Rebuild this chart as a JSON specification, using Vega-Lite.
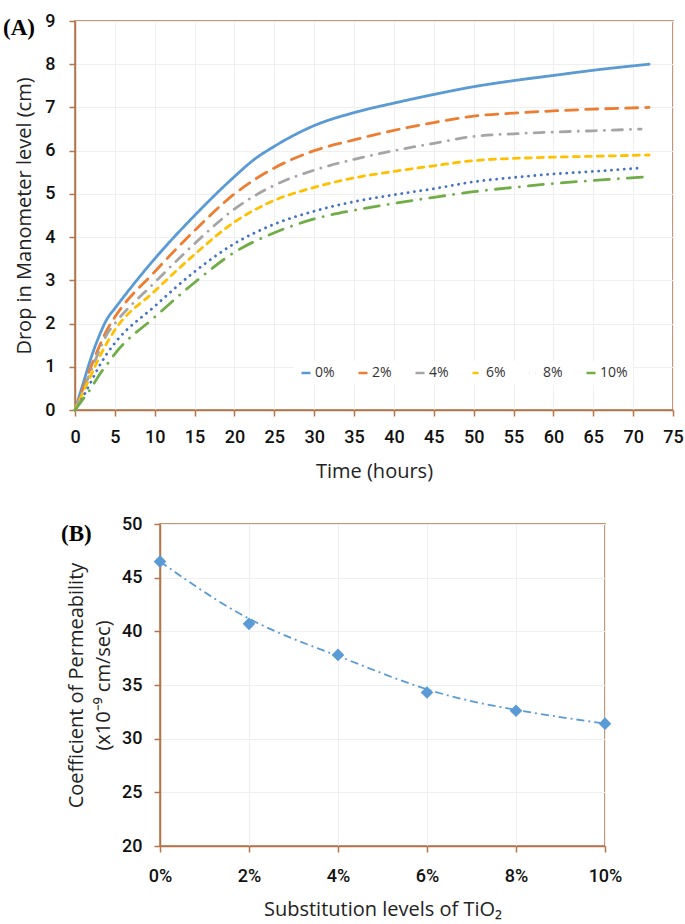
{
  "$schema": "https://vega.github.io/schema/vega-lite/v6.json",
  "background": "white",
  "padding": {"left": 2, "top": 11, "right": 2, "bottom": 2},
  "spacing": 32,
  "config": {
    "font": "Open Sans",
    "view": {"stroke": "#B5734A", "strokeWidth": 1.5},
    "axis": {
      "domainColor": "#B5734A", "domainWidth": 1.5,
      "tickColor": "#B5734A", "tickWidth": 1.5, "tickSize": 6,
      "gridColor": "#EFEFEF", "gridWidth": 1,
      "labelFlush": false, "labelOverlap": false,
      "labelFont": "Roboto", "labelFontWeight": 500, "labelFontSize": 18, "labelColor": "#111111",
      "titleFont": "Open Sans", "titleFontWeight": "normal", "titleFontSize": 20, "titleColor": "#222222"
    }
  },
  "vconcat": [
    {
      "width": 598,
      "height": 389,
      "title": {"text": "(A)", "anchor": "start", "frame": "group", "font": "Liberation Serif", "fontSize": 23, "fontWeight": "bold", "color": "#000000", "dx": -72, "offset": -28},
      "data": {"values": [
        {"level": "0%", "time": 0, "drop": 0}, {"level": "0%", "time": 1, "drop": 0.6}, {"level": "0%", "time": 2, "drop": 1.2}, {"level": "0%", "time": 3, "drop": 1.7}, {"level": "0%", "time": 4, "drop": 2.1}, {"level": "0%", "time": 5, "drop": 2.35}, {"level": "0%", "time": 10, "drop": 3.5}, {"level": "0%", "time": 15, "drop": 4.5}, {"level": "0%", "time": 20, "drop": 5.4}, {"level": "0%", "time": 22.5, "drop": 5.8}, {"level": "0%", "time": 25, "drop": 6.1}, {"level": "0%", "time": 30, "drop": 6.58}, {"level": "0%", "time": 35, "drop": 6.88}, {"level": "0%", "time": 40, "drop": 7.1}, {"level": "0%", "time": 45, "drop": 7.3}, {"level": "0%", "time": 50, "drop": 7.48}, {"level": "0%", "time": 55, "drop": 7.62}, {"level": "0%", "time": 60, "drop": 7.74}, {"level": "0%", "time": 65, "drop": 7.86}, {"level": "0%", "time": 72, "drop": 8.0},
        {"level": "2%", "time": 0, "drop": 0}, {"level": "2%", "time": 1, "drop": 0.5}, {"level": "2%", "time": 2, "drop": 1.0}, {"level": "2%", "time": 3, "drop": 1.45}, {"level": "2%", "time": 4, "drop": 1.85}, {"level": "2%", "time": 5, "drop": 2.15}, {"level": "2%", "time": 10, "drop": 3.2}, {"level": "2%", "time": 15, "drop": 4.15}, {"level": "2%", "time": 20, "drop": 5.0}, {"level": "2%", "time": 25, "drop": 5.6}, {"level": "2%", "time": 30, "drop": 6.0}, {"level": "2%", "time": 35, "drop": 6.25}, {"level": "2%", "time": 40, "drop": 6.47}, {"level": "2%", "time": 45, "drop": 6.65}, {"level": "2%", "time": 50, "drop": 6.8}, {"level": "2%", "time": 55, "drop": 6.87}, {"level": "2%", "time": 60, "drop": 6.92}, {"level": "2%", "time": 65, "drop": 6.96}, {"level": "2%", "time": 72, "drop": 7.0},
        {"level": "4%", "time": 0, "drop": 0}, {"level": "4%", "time": 1, "drop": 0.45}, {"level": "4%", "time": 2, "drop": 0.9}, {"level": "4%", "time": 3, "drop": 1.35}, {"level": "4%", "time": 4, "drop": 1.75}, {"level": "4%", "time": 5, "drop": 2.0}, {"level": "4%", "time": 10, "drop": 2.95}, {"level": "4%", "time": 15, "drop": 3.85}, {"level": "4%", "time": 20, "drop": 4.65}, {"level": "4%", "time": 25, "drop": 5.2}, {"level": "4%", "time": 30, "drop": 5.55}, {"level": "4%", "time": 35, "drop": 5.8}, {"level": "4%", "time": 40, "drop": 6.0}, {"level": "4%", "time": 45, "drop": 6.17}, {"level": "4%", "time": 50, "drop": 6.33}, {"level": "4%", "time": 55, "drop": 6.39}, {"level": "4%", "time": 60, "drop": 6.43}, {"level": "4%", "time": 65, "drop": 6.46}, {"level": "4%", "time": 71, "drop": 6.5},
        {"level": "6%", "time": 0, "drop": 0}, {"level": "6%", "time": 1, "drop": 0.4}, {"level": "6%", "time": 2, "drop": 0.8}, {"level": "6%", "time": 3, "drop": 1.2}, {"level": "6%", "time": 4, "drop": 1.55}, {"level": "6%", "time": 5, "drop": 1.85}, {"level": "6%", "time": 10, "drop": 2.75}, {"level": "6%", "time": 15, "drop": 3.6}, {"level": "6%", "time": 20, "drop": 4.35}, {"level": "6%", "time": 25, "drop": 4.85}, {"level": "6%", "time": 30, "drop": 5.15}, {"level": "6%", "time": 35, "drop": 5.37}, {"level": "6%", "time": 40, "drop": 5.52}, {"level": "6%", "time": 45, "drop": 5.65}, {"level": "6%", "time": 50, "drop": 5.77}, {"level": "6%", "time": 55, "drop": 5.82}, {"level": "6%", "time": 60, "drop": 5.85}, {"level": "6%", "time": 65, "drop": 5.87}, {"level": "6%", "time": 72, "drop": 5.9},
        {"level": "8%", "time": 0, "drop": 0}, {"level": "8%", "time": 1, "drop": 0.3}, {"level": "8%", "time": 2, "drop": 0.65}, {"level": "8%", "time": 3, "drop": 1.0}, {"level": "8%", "time": 4, "drop": 1.3}, {"level": "8%", "time": 5, "drop": 1.55}, {"level": "8%", "time": 10, "drop": 2.4}, {"level": "8%", "time": 15, "drop": 3.2}, {"level": "8%", "time": 20, "drop": 3.85}, {"level": "8%", "time": 25, "drop": 4.3}, {"level": "8%", "time": 30, "drop": 4.6}, {"level": "8%", "time": 35, "drop": 4.82}, {"level": "8%", "time": 40, "drop": 4.98}, {"level": "8%", "time": 45, "drop": 5.12}, {"level": "8%", "time": 50, "drop": 5.28}, {"level": "8%", "time": 55, "drop": 5.38}, {"level": "8%", "time": 60, "drop": 5.46}, {"level": "8%", "time": 65, "drop": 5.52}, {"level": "8%", "time": 71, "drop": 5.6},
        {"level": "10%", "time": 0, "drop": 0}, {"level": "10%", "time": 1, "drop": 0.25}, {"level": "10%", "time": 2, "drop": 0.5}, {"level": "10%", "time": 3, "drop": 0.8}, {"level": "10%", "time": 4, "drop": 1.05}, {"level": "10%", "time": 5, "drop": 1.3}, {"level": "10%", "time": 10, "drop": 2.15}, {"level": "10%", "time": 15, "drop": 2.95}, {"level": "10%", "time": 20, "drop": 3.65}, {"level": "10%", "time": 25, "drop": 4.1}, {"level": "10%", "time": 30, "drop": 4.42}, {"level": "10%", "time": 35, "drop": 4.62}, {"level": "10%", "time": 40, "drop": 4.78}, {"level": "10%", "time": 45, "drop": 4.92}, {"level": "10%", "time": 50, "drop": 5.05}, {"level": "10%", "time": 55, "drop": 5.15}, {"level": "10%", "time": 60, "drop": 5.24}, {"level": "10%", "time": 65, "drop": 5.31}, {"level": "10%", "time": 72, "drop": 5.4}
      ]},
      "mark": {"type": "line", "interpolate": "monotone", "strokeWidth": 2.8, "strokeCap": "round"},
      "encoding": {
        "x": {"field": "time", "type": "quantitative", "scale": {"domain": [0, 75], "nice": false},
          "axis": {"values": [0, 5, 10, 15, 20, 25, 30, 35, 40, 45, 50, 55, 60, 65, 70, 75], "title": "Time (hours)", "labelPadding": 12, "titlePadding": 15, "grid": true}},
        "y": {"field": "drop", "type": "quantitative", "scale": {"domain": [0, 9], "nice": false},
          "axis": {"values": [0, 1, 2, 3, 4, 5, 6, 7, 8, 9], "title": "Drop in Manometer level (cm)", "labelPadding": 14, "titlePadding": 10, "grid": true}},
        "color": {"field": "level", "type": "nominal",
          "scale": {"domain": ["0%", "2%", "4%", "6%", "8%", "10%"], "range": ["#5B9BD5", "#ED7D31", "#A5A5A5", "#FFC000", "#4472C4", "#70AD47"]},
          "legend": {"orient": "none", "legendX": 219, "legendY": 340, "direction": "horizontal", "title": null, "symbolType": "stroke", "symbolSize": 81, "symbolStrokeWidth": 2.5, "labelFont": "Open Sans", "labelFontSize": 14, "labelColor": "#333333", "labelOffset": 2, "columnPadding": 18, "fillColor": "white", "padding": 5}},
        "strokeDash": {"field": "level", "type": "nominal",
          "scale": {"domain": ["0%", "2%", "4%", "6%", "8%", "10%"], "range": [[1, 0], [12, 8], [10, 8, 0.1, 8], [6, 6], [0.1, 6.3], [15, 9, 0.1, 9]]}}
      }
    },
    {
      "bounds": "flush",
      "spacing": 0,
      "hconcat": [
        {
          "width": 85,
          "height": 322,
          "view": {"stroke": null},
          "data": {"values": []},
          "mark": "point"
        },
        {
          "width": 445,
          "height": 322,
          "title": {"text": "(B)", "anchor": "start", "frame": "group", "font": "Liberation Serif", "fontSize": 23, "fontWeight": "bold", "color": "#000000", "dx": -99, "offset": -31},
          "data": {"values": [
            {"sub": 0, "k": 46.5}, {"sub": 0.02, "k": 40.7}, {"sub": 0.04, "k": 37.8}, {"sub": 0.06, "k": 34.3}, {"sub": 0.08, "k": 32.6}, {"sub": 0.1, "k": 31.4}
          ]},
          "encoding": {
            "x": {"field": "sub", "type": "quantitative", "scale": {"domain": [0, 0.1], "nice": false},
              "axis": {"values": [0, 0.02, 0.04, 0.06, 0.08, 0.1], "format": ".0%", "title": "Substitution levels of TiO₂", "labelPadding": 15, "titlePadding": 14, "grid": true}},
            "y": {"field": "k", "type": "quantitative", "scale": {"domain": [20, 50], "nice": false},
              "axis": {"values": [20, 25, 30, 35, 40, 45, 50], "title": ["Coefficient of Permeability", "(x10⁻⁹ cm/sec)"], "titleLineHeight": 27, "labelPadding": 12, "titlePadding": 8, "grid": true}}
          },
          "layer": [
            {"mark": {"type": "line", "interpolate": "basis", "color": "#5B9BD5", "strokeWidth": 1.8, "strokeDash": [8, 4, 2, 4]}},
            {"mark": {"type": "point", "shape": "diamond", "filled": true, "size": 160, "color": "#5B9BD5", "opacity": 1}}
          ]
        }
      ]
    }
  ]
}
